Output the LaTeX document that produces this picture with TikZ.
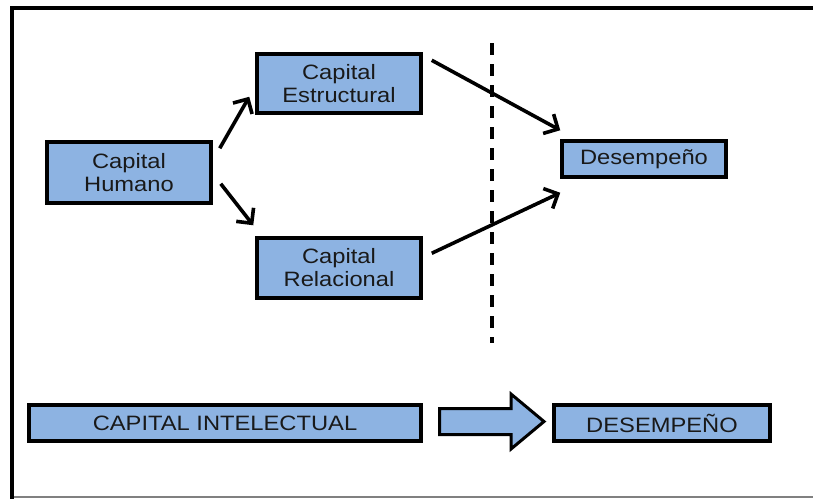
\documentclass[tikz,border=0pt]{standalone}
\usepackage{fontspec}
\setmainfont{Liberation Sans}[FakeStretch=1.14]
\usetikzlibrary{calc,arrows.meta}
\definecolor{boxblue}{HTML}{8DB3E2}
\tikzset{
  box/.style={draw=black, fill=boxblue, line width=3.5pt, rectangle,
    inner sep=0pt, align=center, text=black!90, font=\fontsize{20.8}{23}\selectfont},
  arr/.style={line width=3.6pt, -{Straight Barb[length=11pt,width=22pt]}},
  frame/.style={line width=3.5pt, line cap=rect},
}
\begin{document}
\begin{tikzpicture}[x=1pt, y=-1pt]
  \useasboundingbox (0,0) rectangle (813,499);
  % outer frame, open on the right
  \draw[gray, line width=1.5pt] (12,497) -- (813,497);
  \draw[frame] (12,497) -- (12,8) -- (815,8);

  % upper model
  \node[box, minimum width=164pt, minimum height=61pt] (hum) at (129,172.5) {Capital\\Humano};
  \node[box, minimum width=164pt, minimum height=59pt] (est) at (339,83.5) {Capital\\Estructural};
  \node[box, minimum width=164pt, minimum height=60pt] (rel) at (339,268) {Capital\\Relacional};
  \node[box, minimum width=164pt, minimum height=36pt] (des) at (644,159) {Desempeño};

  % dashed divider
  \coordinate (dtop) at (492,43);
  \coordinate (dbot) at (492,343);
  \draw[line width=3.5pt, dash pattern=on 12pt off 9pt] (dtop) -- (dbot);

  % connectors
  \draw[arr] ($(hum.north east)+(7,8)$) -- ($(est.south west)+(-6,-18)$);
  \draw[arr] ($(hum.south east)+(8,-21)$) -- ($(rel.north west)+(-2,-11)$);
  \draw[arr] ($(est.north east)+(9,8)$) -- ($(des.north west)+(0,-9)$);
  \draw[arr] ($(rel.north east)+(9,17)$) -- ($(des.south west)+(0,14)$);

  % lower summary
  \node[box, minimum width=392pt, minimum height=36pt] (ci) at (225,423) {CAPITAL INTELECTUAL};
  \node[box, minimum width=216pt, minimum height=36pt] (dd) at (662,423) {DESEMPEÑO};

  % block arrow between the two summary boxes
  \draw[line width=3pt, fill=boxblue, line join=miter]
    (439.5,408.5) -- (511,408.5) -- (511,394) -- (544,421.5)
    -- (511,449) -- (511,434.5) -- (439.5,434.5) -- cycle;
\end{tikzpicture}
\end{document}
